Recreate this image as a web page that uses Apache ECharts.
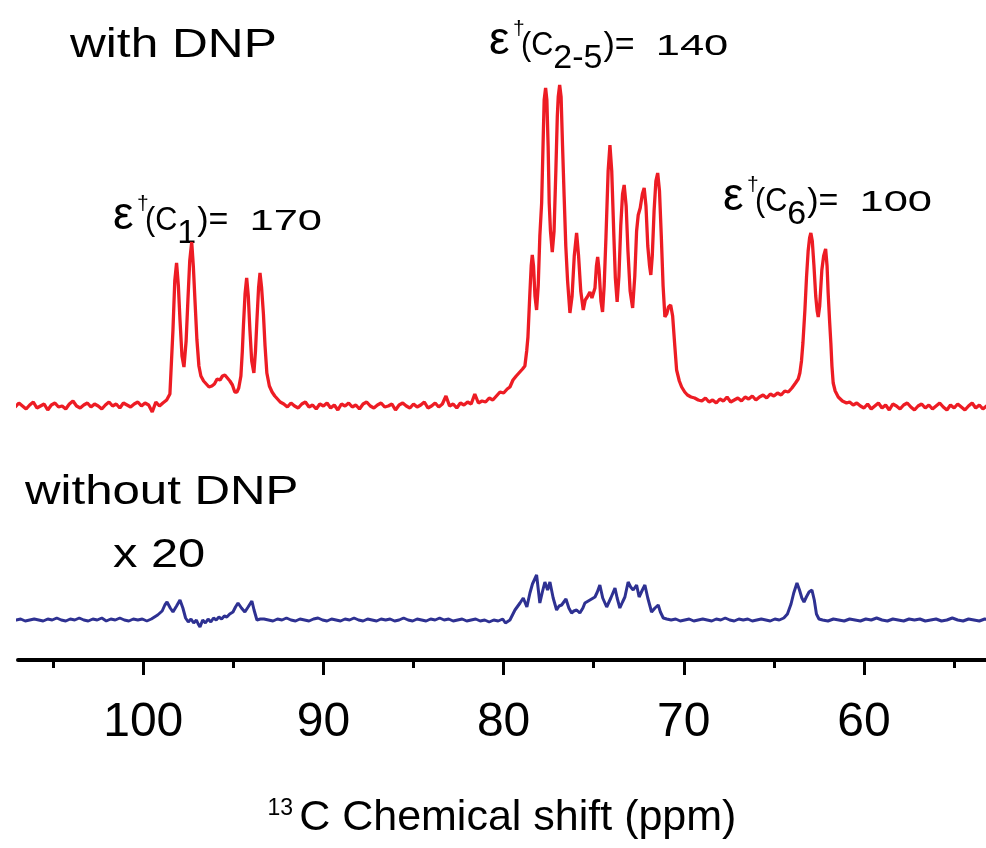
<!DOCTYPE html>
<html>
<head>
<meta charset="utf-8">
<script src="https://cdn.jsdelivr.net/npm/echarts@6/dist/echarts.min.js"></script>
<style>
html,body{margin:0;padding:0;background:#fff;}
#chart{width:986px;height:848px;}
</style>
</head>
<body>
<div id="chart"></div>
<script>
// ---------- DATA (ppm, intensity) ----------
// with DNP (red), baseline segments and peak groups
const redBaseLeft = [[107.3,2],[107.1,-1],[106.9,3],[106.7,0],[106.5,-3],[106.3,1],[106.1,4],[105.9,-2],[105.7,0],[105.5,2],[105.3,-4],[105.1,1],[104.9,3],[104.7,-1],[104.5,0],[104.3,-3],[104.1,2],[103.9,5],[103.7,0],[103.5,-2],[103.3,1],[103.1,3],[102.9,-1],[102.7,2],[102.5,0],[102.3,-3],[102.1,1],[101.9,4],[101.7,0],[101.5,2],[101.3,-2],[101.1,3],[100.9,1],[100.7,-1],[100.5,2],[100.3,4],[100.1,0],[99.9,3],[99.7,1],[99.5,-6],[99.3,4],[99.1,0]];
const redC1 = [[98.91,3],[98.7,6],[98.52,12],[98.35,76],[98.25,125],[98.15,143],[98.05,120],[97.96,86],[97.85,50],[97.74,39],[97.62,65],[97.52,106],[97.42,145],[97.31,164],[97.22,140],[97.13,106],[97.02,66],[96.91,40],[96.8,30],[96.65,25],[96.5,22],[96.35,19],[96.19,20],[96.05,22],[95.9,27],[95.74,26],[95.6,30],[95.47,31],[95.33,28],[95.19,25],[95.05,21],[94.92,14],[94.8,14],[94.7,18],[94.58,30],[94.5,55],[94.44,80],[94.35,112],[94.26,128],[94.17,110],[94.08,76],[93.98,45],[93.86,33],[93.77,55],[93.69,86],[93.6,118],[93.52,133],[93.43,118],[93.33,92],[93.24,60],[93.14,33],[93.0,20],[92.85,14],[92.7,10],[92.55,7],[92.4,4]];
const redBaseMid = [[92.2,2],[92.0,-1],[91.8,3],[91.6,0],[91.4,-2],[91.2,2],[91.0,4],[90.8,-1],[90.6,1],[90.4,-3],[90.2,2],[90.0,0],[89.8,3],[89.6,-2],[89.4,1],[89.2,-4],[89.0,2],[88.8,0],[88.6,3],[88.4,-1],[88.2,1],[88.0,-3],[87.8,2],[87.6,4],[87.4,0],[87.2,-2],[87.0,1],[86.8,3],[86.6,-1],[86.4,0],[86.2,2],[86.0,-4],[85.8,1],[85.6,3],[85.4,0],[85.2,-2],[85.0,2],[84.8,-1],[84.6,1],[84.4,4],[84.2,-2],[84.0,0],[83.8,3],[83.6,-1],[83.4,2],[83.2,10],[83.0,0],[82.8,2],[82.6,-2],[82.4,3],[82.2,1],[82.0,4],[81.8,2],[81.6,12],[81.4,3],[81.2,5],[81.0,4],[80.8,8],[80.6,6],[80.4,10]];
const redC25 = [[80.2,14],[80.0,13],[79.8,17],[79.65,19],[79.48,26],[79.3,30],[79.1,34],[78.95,37],[78.82,40],[78.72,55],[78.65,69],[78.55,110],[78.47,140],[78.41,151],[78.34,140],[78.26,110],[78.17,96],[78.08,120],[77.99,170],[77.89,203],[77.8,270],[77.75,306],[77.67,318],[77.6,306],[77.53,260],[77.47,203],[77.4,175],[77.3,154],[77.2,175],[77.1,236],[77.02,290],[76.97,309],[76.89,321],[76.81,309],[76.73,260],[76.64,209],[76.55,160],[76.45,125],[76.32,93],[76.2,110],[76.08,150],[75.95,173],[75.84,150],[75.72,115],[75.58,96],[75.47,106],[75.36,109],[75.21,114],[75.1,108],[75.03,106],[74.93,118],[74.85,140],[74.78,149],[74.7,135],[74.6,105],[74.51,94],[74.42,120],[74.32,169],[74.2,235],[74.1,261],[74.0,235],[73.88,169],[73.8,128],[73.7,104],[73.6,130],[73.5,180],[73.4,212],[73.31,221],[73.2,200],[73.1,155],[72.98,115],[72.84,98],[72.72,130],[72.62,175],[72.53,191],[72.42,198],[72.3,212],[72.2,218],[72.1,200],[72.0,160],[71.9,140],[71.83,131],[71.75,150],[71.65,195],[71.55,225],[71.45,233],[71.35,215],[71.25,170],[71.15,120],[71.05,89],[70.95,92],[70.85,99],[70.73,101],[70.62,90],[70.5,60],[70.4,36],[70.25,25],[70.12,19],[69.95,14],[69.8,11],[69.6,9],[69.4,8],[69.2,6]];
const redBaseRight1 = [[69.0,5],[68.8,8],[68.6,4],[68.4,6],[68.2,3],[68.0,7],[67.8,5],[67.6,9],[67.4,4],[67.2,6],[67.0,8],[66.8,5],[66.6,9],[66.4,7],[66.2,10],[66.0,6],[65.8,9],[65.6,11],[65.4,8],[65.2,12],[65.0,10],[64.8,13],[64.6,11],[64.4,15],[64.2,14]];
const redC6 = [[64.0,18],[63.9,20],[63.8,23],[63.65,27],[63.56,33],[63.47,45],[63.39,63],[63.28,96],[63.19,129],[63.1,155],[63.02,168],[62.95,173],[62.87,165],[62.78,141],[62.68,110],[62.6,95],[62.54,89],[62.46,100],[62.34,136],[62.24,150],[62.13,157],[62.05,140],[61.99,113],[61.91,85],[61.84,63],[61.78,40],[61.71,23],[61.6,15],[61.43,9],[61.2,5],[60.97,3]];
const redBaseRight2 = [[60.8,4],[60.6,1],[60.4,3],[60.2,0],[60.0,-2],[59.8,2],[59.6,-3],[59.4,0],[59.2,3],[59.0,-2],[58.8,1],[58.6,-4],[58.4,2],[58.2,0],[58.0,-3],[57.8,1],[57.6,3],[57.4,-1],[57.2,-4],[57.0,0],[56.8,2],[56.6,-2],[56.4,1],[56.2,-3],[56.0,0],[55.8,3],[55.6,-1],[55.4,-4],[55.2,1],[55.0,-2],[54.8,2],[54.6,-1],[54.4,-4],[54.2,0],[54.0,3],[53.8,-2],[53.6,1],[53.4,-3],[53.2,0],[53.0,2]];

// without DNP x 20 (blue)
const blueBaseLeft = [[107.3,1],[107.05,0],[106.8,1],[106.55,-1],[106.3,0],[106.05,1],[105.8,0],[105.55,-1],[105.3,1],[105.05,0],[104.8,2],[104.55,0],[104.3,-1],[104.05,1],[103.8,0],[103.55,2],[103.3,0],[103.05,-1],[102.8,1],[102.55,0],[102.3,2],[102.05,-1],[101.8,1],[101.55,0],[101.3,2],[101.05,0],[100.8,-1],[100.55,1],[100.3,0],[100.05,1],[99.8,-1],[99.55,1]];
const blueC1 = [[99.46,2],[99.2,5],[98.95,9],[98.8,15],[98.68,18],[98.5,12],[98.35,8],[98.15,14],[97.96,20],[97.8,12],[97.65,2],[97.5,-2],[97.35,1],[97.2,-3],[97.05,0],[96.95,-4],[96.85,-7],[96.7,0],[96.55,-3],[96.4,1],[96.25,-2],[96.1,2],[95.95,0],[95.8,3],[95.65,1],[95.5,4],[95.36,3],[95.2,6],[95.02,8],[94.88,13],[94.74,17],[94.55,12],[94.36,8],[94.18,13],[93.97,19],[93.85,10],[93.69,0],[93.5,1]];
const blueBaseMid = [[93.3,1],[93.05,0],[92.8,-1],[92.55,1],[92.3,0],[92.05,2],[91.8,0],[91.55,-1],[91.3,1],[91.05,0],[90.8,-1],[90.55,1],[90.3,2],[90.05,0],[89.8,-1],[89.55,1],[89.3,0],[89.05,-1],[88.8,1],[88.55,0],[88.3,2],[88.05,0],[87.8,-1],[87.55,1],[87.3,0],[87.05,-1],[86.8,1],[86.55,0],[86.3,1],[86.05,-1],[85.8,0],[85.55,2],[85.3,0],[85.05,-1],[84.8,1],[84.55,0],[84.3,-1],[84.05,1],[83.8,0],[83.55,2],[83.3,0],[83.05,1],[82.8,-1],[82.55,0],[82.3,1],[82.05,-1],[81.8,0],[81.55,1],[81.3,-1],[81.05,0],[80.8,-2],[80.55,0],[80.3,-1],[80.05,1]];
const blueC25 = [[79.9,-3],[79.65,0],[79.37,10],[79.09,17],[78.91,22],[78.71,13],[78.54,27],[78.4,36],[78.17,45],[77.99,17],[77.85,28],[77.71,38],[77.56,30],[77.43,38],[77.25,22],[77.06,10],[76.92,14],[76.78,15],[76.54,21],[76.38,12],[76.23,7],[76.1,9],[75.95,10],[75.77,7],[75.6,12],[75.49,17],[75.21,20],[74.93,23],[74.8,28],[74.66,35],[74.5,22],[74.28,13],[74.05,22],[73.82,32],[73.7,22],[73.55,12],[73.4,18],[73.27,23],[73.09,38],[72.95,33],[72.81,30],[72.62,35],[72.48,23],[72.3,30],[72.16,35],[72.0,22],[71.79,8],[71.6,12],[71.42,15],[71.3,8],[71.14,2],[70.95,1]];
const blueBaseRight1 = [[70.7,0],[70.45,1],[70.2,-1],[69.95,0],[69.7,1],[69.45,-1],[69.2,0],[68.95,1],[68.7,0],[68.45,-1],[68.2,1],[67.95,0],[67.7,2],[67.45,0],[67.2,-1],[66.95,1],[66.7,0],[66.45,1],[66.2,-1],[65.95,0],[65.7,1],[65.45,0],[65.2,-1],[64.95,1],[64.7,0]];
const blueC6 = [[64.45,2],[64.25,6],[64.05,16],[63.9,27],[63.72,37],[63.58,30],[63.45,22],[63.33,18],[63.2,23],[63.05,28],[62.89,30],[62.76,20],[62.64,6],[62.5,1]];
const blueBaseRight2 = [[62.3,0],[62.0,-1],[61.7,1],[61.4,0],[61.1,-1],[60.8,1],[60.5,0],[60.2,-1],[59.9,1],[59.6,0],[59.3,2],[59.0,0],[58.7,-1],[58.4,1],[58.1,0],[57.8,-1],[57.5,1],[57.2,0],[56.9,1],[56.6,-1],[56.3,0],[56.0,1],[55.7,-1],[55.4,0],[55.1,2],[54.8,0],[54.5,-1],[54.2,1],[53.9,0],[53.6,-1],[53.3,1],[53.0,0]];

// axis ticks / labels
const majorTicks = [100, 90, 80, 70, 60];
const minorTicks = [105, 95, 85, 75, 65, 55];
const xMin = 53.23, xMax = 106.95;

// annotation texts
const labelWith = 'with DNP';
const labelWithout = 'without DNP';
const labelScale = 'x 20';
const annots = [
  {sub: '1', val: '170'},
  {sub: '2-5', val: '140'},
  {sub: '6', val: '100'}
];

// ---------- BUILD ----------
const redData = [].concat(redBaseLeft, redC1, redBaseMid, redC25, redBaseRight1, redC6, redBaseRight2);
const blueData = [].concat(blueBaseLeft, blueC1, blueBaseMid, blueC25, blueBaseRight1, blueC6, blueBaseRight2);

const FONT = '"Liberation Sans", Arial, Helvetica, sans-serif';
const mctx = document.createElement('canvas').getContext('2d');
function tw(t, fs) { mctx.font = fs + 'px ' + FONT; return mctx.measureText(t).width; }
// text element positioned by its left edge and alphabetic baseline
function T(x, baseline, text, fs, sx) {
  return {
    type: 'text', x: x, y: baseline - 0.8465 * fs, scaleX: sx || 1, silent: true,
    style: { text: text, fontSize: fs, fontFamily: FONT, fill: '#000', align: 'left', verticalAlign: 'top' }
  };
}
function annotation(x0, base, a) {
  const els = [];
  els.push(T(x0, base, 'ε', 46, 1));
  els.push(T(x0 + 24, base - 21, '†', 21, 1));
  els.push(T(x0 + 32, base, '(C', 34, 0.9));
  let x = x0 + 32 + tw('(C', 34) * 0.9;
  els.push(T(x, base + 13, a.sub, 34, 1));
  x += tw(a.sub, 34) + 1;
  els.push(T(x, base, ')=', 34, 1));
  x += tw(')=', 34) + 9;
  els.push(T(x, base, ' ' + a.val, 30, 1.45));
  return els;
}

const chart = echarts.init(document.getElementById('chart'), null, {renderer: 'canvas'});
const graphics = [].concat(
  [T(70, 60, labelWith, 41, 1.21), T(25, 507, labelWithout, 40, 1.23), T(113, 570, labelScale, 40, 1.22)],
  annotation(113, 232, annots[0]),
  annotation(489, 57, annots[1]),
  annotation(723, 213, annots[2])
);

chart.setOption({
  animation: false,
  backgroundColor: '#fff',
  grid: [
    {left: 18, right: 0, top: 60, height: 360},
    {left: 18, right: 0, top: 540, height: 120}
  ],
  xAxis: [
    {gridIndex: 0, type: 'value', min: xMin, max: xMax, inverse: true, show: false},
    {
      gridIndex: 1, type: 'value', position: 'bottom', min: xMin, max: xMax, inverse: true,
      axisLine: {show: true, onZero: false, lineStyle: {color: '#000', width: 4}},
      axisTick: {show: true, customValues: majorTicks, length: 15, lineStyle: {color: '#000', width: 3}},
      axisLabel: {show: true, customValues: majorTicks, fontSize: 48, fontFamily: FONT, color: '#000', margin: 39},
      splitLine: {show: false},
      name: '{s|13}{m|C Chemical shift (ppm)}',
      nameLocation: 'middle', nameGap: 137,
      nameTextStyle: {
        rich: {
          s: {fontSize: 23, fontFamily: FONT, color: '#000', verticalAlign: 'top', padding: [0, 6, 0, 0]},
          m: {fontSize: 43, fontFamily: FONT, color: '#000'}
        }
      }
    },
    {
      gridIndex: 1, type: 'value', position: 'bottom', min: xMin, max: xMax, inverse: true,
      axisLine: {show: false, onZero: false},
      axisTick: {show: true, customValues: minorTicks, length: 8, lineStyle: {color: '#000', width: 3}},
      axisLabel: {show: false}, splitLine: {show: false}
    }
  ],
  yAxis: [
    {gridIndex: 0, type: 'value', min: -14, max: 346, show: false},
    {gridIndex: 1, type: 'value', min: -40, max: 80, show: false}
  ],
  series: [
    {type: 'line', name: 'with DNP', xAxisIndex: 0, yAxisIndex: 0, data: redData, showSymbol: false, symbol: 'none', clip: false, silent: true,
     lineStyle: {color: '#ed1c24', width: 3.3}},
    {type: 'line', name: 'without DNP x 20', xAxisIndex: 1, yAxisIndex: 1, data: blueData, showSymbol: false, symbol: 'none', clip: false, silent: true,
     lineStyle: {color: '#2e3192', width: 3}}
  ],
  graphic: graphics
});
</script>
</body>
</html>
